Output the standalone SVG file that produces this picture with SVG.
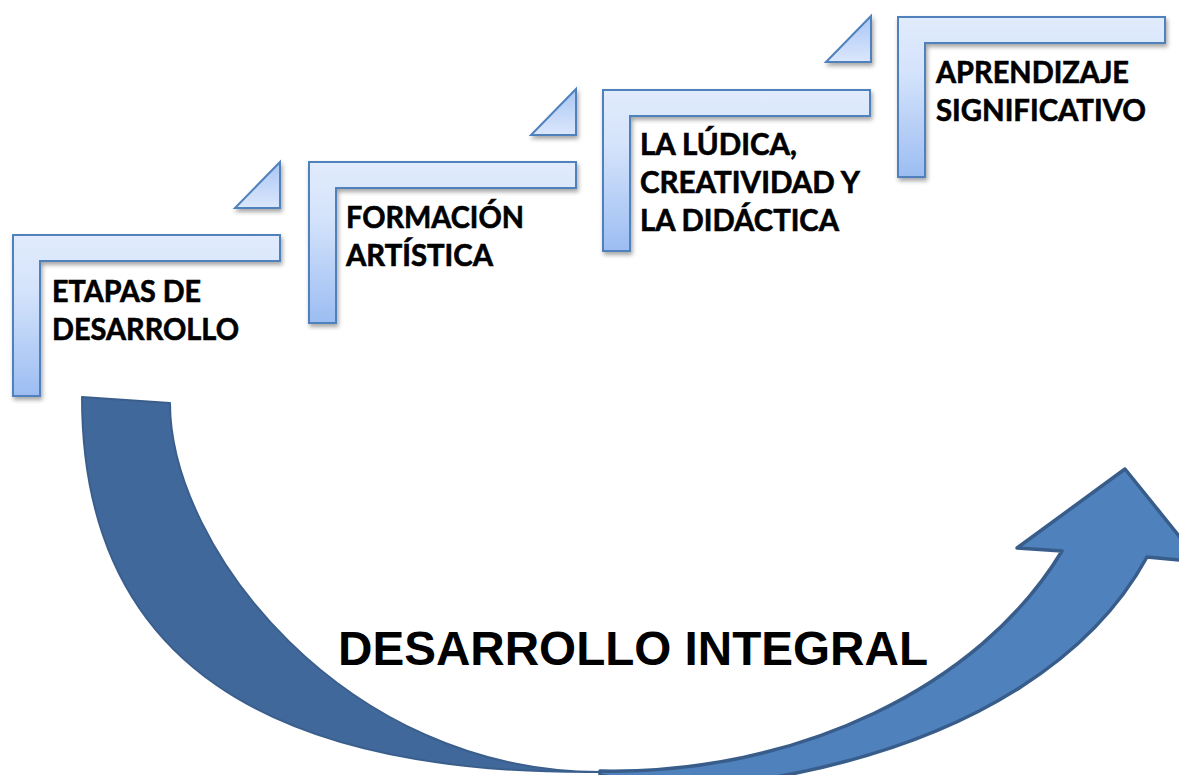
<svg xmlns="http://www.w3.org/2000/svg" width="1179" height="775" viewBox="0 0 1179 775">
<defs>
<linearGradient id="stepGrad" x1="0" y1="0" x2="0" y2="1">
<stop offset="0" stop-color="#e1ebfc"/>
<stop offset="0.35" stop-color="#d4e3fb"/>
<stop offset="1" stop-color="#9cbdf2"/>
</linearGradient>
<linearGradient id="triGrad" x1="0" y1="0" x2="0" y2="1">
<stop offset="0" stop-color="#a9c6f4"/>
<stop offset="1" stop-color="#dbe7fc"/>
</linearGradient>
<filter id="shadow" x="-10%" y="-10%" width="130%" height="130%">
<feDropShadow dx="1.5" dy="3" stdDeviation="2" flood-color="#000" flood-opacity="0.35"/>
</filter>
</defs>
<style>
.step{fill:url(#stepGrad);stroke:#4f81bd;stroke-width:2;filter:url(#shadow)}
.tri{fill:url(#triGrad);stroke:#4f81bd;stroke-width:2;filter:url(#shadow)}
.lbl{font-family:Lato,"Open Sans","Liberation Sans",sans-serif;font-weight:700;font-size:29.5px;fill:#000;stroke:#000;stroke-width:0.6}
.title{font-family:"Liberation Sans",Arial,sans-serif;font-weight:700;font-size:48px;fill:#000}
.armL{fill:#41689a;stroke:#3a5f8d;stroke-width:2;stroke-linejoin:round}
.armR{fill:#4f81bd;stroke:#385d8a;stroke-width:3.5;stroke-linejoin:round}
</style>
<rect width="1179" height="775" fill="#ffffff"/>

<g id="connectors">
<path class="armL" d="M82,397 L170,403 C170,548 345,772 600,772 C265,775 82,660 82,397 Z"/>
<path class="armR" d="M600,771 C796,775 980,687 1062,551 L1017,548 L1125,469 L1200,562 L1147,557 C1110,625 1000,760 680,790 L600,775 Z"/>
</g>

<g id="title">
<text class="title" x="338" y="665" textLength="590" lengthAdjust="spacingAndGlyphs">DESARROLLO INTEGRAL</text>
</g>

<g id="step1">
<polygon class="tri" points="280,162 280,208 235,208"/>
<path class="step" d="M13,235 H280 V261 H40 V396 H13 Z"/>
<text class="lbl" x="52" y="302" textLength="149" lengthAdjust="spacingAndGlyphs">ETAPAS DE</text>
<text class="lbl" x="52" y="340" textLength="187" lengthAdjust="spacingAndGlyphs">DESARROLLO</text>
</g>

<g id="step2">
<polygon class="tri" points="576,89 576,135 531,135"/>
<path class="step" d="M309,162 H576 V188 H336 V323 H309 Z"/>
<text class="lbl" x="346" y="228" textLength="178" lengthAdjust="spacingAndGlyphs">FORMACIÓN</text>
<text class="lbl" x="346" y="266" textLength="147" lengthAdjust="spacingAndGlyphs">ARTÍSTICA</text>
</g>

<g id="step3">
<polygon class="tri" points="871,16 871,62 826,62"/>
<path class="step" d="M603,90 H870 V116 H630 V251 H603 Z"/>
<text class="lbl" x="640" y="155" textLength="157" lengthAdjust="spacingAndGlyphs">LA LÚDICA,</text>
<text class="lbl" x="640" y="193" textLength="220" lengthAdjust="spacingAndGlyphs">CREATIVIDAD Y</text>
<text class="lbl" x="640" y="231" textLength="199" lengthAdjust="spacingAndGlyphs">LA DIDÁCTICA</text>
</g>

<g id="step4">
<path class="step" d="M898,17 H1165 V43 H925 V177 H898 Z"/>
<text class="lbl" x="936" y="83" textLength="193" lengthAdjust="spacingAndGlyphs">APRENDIZAJE</text>
<text class="lbl" x="936" y="121" textLength="210" lengthAdjust="spacingAndGlyphs">SIGNIFICATIVO</text>
</g>
</svg>
